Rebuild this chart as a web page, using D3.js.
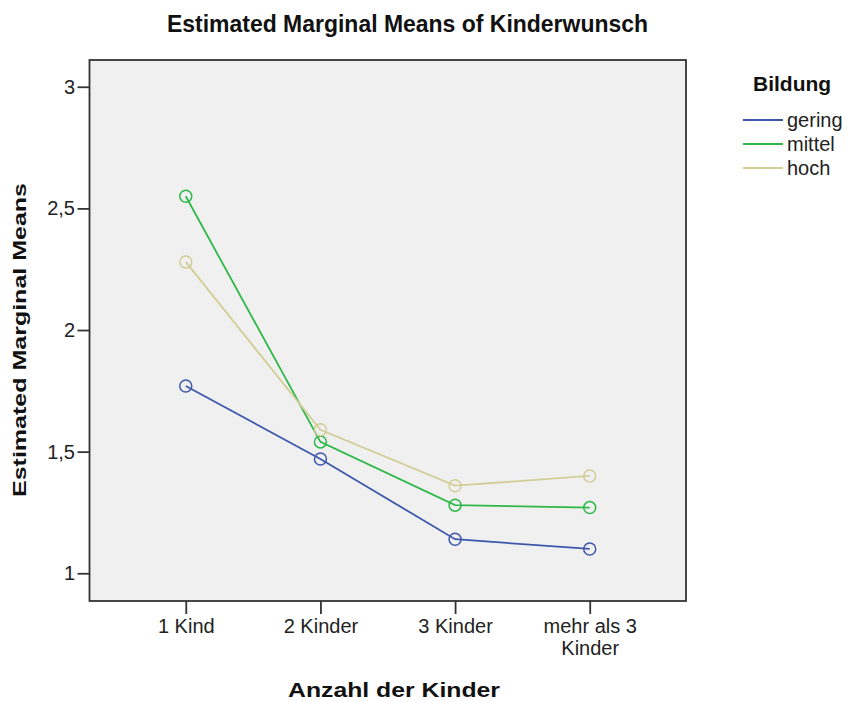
<!DOCTYPE html>
<html><head><meta charset="utf-8">
<script src="https://cdn.jsdelivr.net/npm/d3@7"></script>
<style>body{margin:0;background:#fff;}</style>
</head><body>
<svg id="c" width="849" height="702"></svg>
<script>
const categories = ["1 Kind", "2 Kinder", "3 Kinder", "mehr als 3 Kinder"];
const seriesNames = ["gering", "mittel", "hoch"];
const gering = [1.77, 1.47, 1.14, 1.10];
const mittel = [2.55, 1.54, 1.28, 1.27];
const hoch = [2.28, 1.59, 1.36, 1.40];
const yTicks = [1, 1.5, 2, 2.5, 3];
const colors = ["#3E58AC", "#2EB848", "#D3CE97"];

const series = [gering, mittel, hoch];
const svg = d3.select("#c");
const L = 89.5, R = 686, T = 60, B = 601;
const FONT = "Liberation Sans, Arial, sans-serif";
const x = d3.scalePoint().domain(categories).range([L, R]).padding(0.715);
const y = d3.scaleLinear().domain([0.886, 3.11]).range([B, T]);

svg.append("rect").attr("x", L).attr("y", T).attr("width", R - L).attr("height", B - T)
  .attr("fill", "#F0F0F0").attr("stroke", "#333").attr("stroke-width", 1.8);

const yAxis = svg.append("g").attr("transform", `translate(${L},0)`)
  .call(d3.axisLeft(y).tickValues(yTicks).tickSize(12).tickSizeOuter(0)
    .tickFormat(d => String(d).replace(".", ",")));
yAxis.select(".domain").remove();
yAxis.selectAll("line").attr("stroke", "#333").attr("stroke-width", 1.8);
yAxis.selectAll("text").attr("font-family", FONT)
  .attr("font-size", 20).attr("fill", "#222").attr("x", -14.5);

const xAxis = svg.append("g").attr("transform", `translate(0,${B})`)
  .call(d3.axisBottom(x).tickSize(13).tickSizeOuter(0).tickFormat(""));
xAxis.select(".domain").remove();
xAxis.selectAll("line").attr("stroke", "#333").attr("stroke-width", 1.8);
xAxis.selectAll(".tick").each(function(d) {
  const g = d3.select(this);
  const t = g.append("text").attr("font-family", FONT)
    .attr("font-size", 20).attr("fill", "#222").attr("text-anchor", "middle");
  const lines = d === "mehr als 3 Kinder" ? ["mehr als 3", "Kinder"] : [d];
  lines.forEach((s, i) => t.append("tspan").attr("x", 0).attr("y", 32 + i * 22).text(s));
});

const line = d3.line().x((d, i) => x(categories[i])).y(d => y(d));
series.forEach((s, k) => {
  svg.append("path").datum(s).attr("d", line).attr("fill", "none")
    .attr("stroke", colors[k]).attr("stroke-width", 1.8);
  svg.selectAll(null).data(s).enter().append("circle")
    .attr("cx", (d, i) => x(categories[i])).attr("cy", d => y(d)).attr("r", 6)
    .attr("fill", "none").attr("stroke", colors[k]).attr("stroke-width", 1.5);
});

svg.append("text").attr("x", 407.5).attr("y", 32).attr("text-anchor", "middle")
  .attr("font-family", FONT).attr("font-weight", "bold")
  .attr("font-size", 23).attr("textLength", 481).attr("lengthAdjust", "spacingAndGlyphs")
  .attr("fill", "#111").text("Estimated Marginal Means of Kinderwunsch");

svg.append("text").attr("transform", `translate(26,340) rotate(-90)`).attr("text-anchor", "middle")
  .attr("font-family", FONT).attr("font-weight", "bold")
  .attr("font-size", 19).attr("textLength", 314).attr("lengthAdjust", "spacingAndGlyphs")
  .attr("fill", "#111").text("Estimated Marginal Means");

svg.append("text").attr("x", 394).attr("y", 697).attr("text-anchor", "middle")
  .attr("font-family", FONT).attr("font-weight", "bold")
  .attr("font-size", 20).attr("textLength", 212).attr("lengthAdjust", "spacingAndGlyphs")
  .attr("fill", "#111").text("Anzahl der Kinder");

const lg = svg.append("g").attr("transform", "translate(743,0)");
lg.append("text").attr("x", 10).attr("y", 91).attr("font-family", FONT)
  .attr("font-weight", "bold").attr("font-size", 21).attr("fill", "#111").text("Bildung");
seriesNames.forEach((n, k) => {
  const yy = 120 + k * 24;
  lg.append("line").attr("x1", 0).attr("x2", 40).attr("y1", yy).attr("y2", yy)
    .attr("stroke", colors[k]).attr("stroke-width", 2.2);
  lg.append("text").attr("x", 44).attr("y", yy + 7).attr("font-family", FONT)
    .attr("font-size", 20).attr("fill", "#222").text(n);
});
</script>
</body></html>
